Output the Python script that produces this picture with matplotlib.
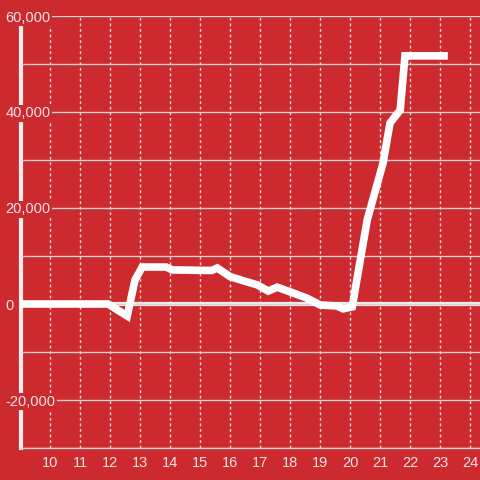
import numpy as np
import matplotlib
matplotlib.use("Agg")
import matplotlib.pyplot as plt
from matplotlib.ticker import MultipleLocator, FuncFormatter

# data (hour of day vs value)
hours = [9.03, 11.93, 12.57, 12.83, 13.07, 13.87, 14.07, 15.17, 15.4, 15.57,
         16.0, 16.57, 16.9, 17.27, 17.57, 18.1, 18.57, 19.0, 19.55, 19.77,
         20.07, 20.57, 21.1, 21.33, 21.67, 21.83, 23.13]
values = [0, 0, -2500, 5000, 7700, 7700, 7100, 7000, 7000, 7500,
          5700, 4600, 4000, 2700, 3500, 2300, 1200, -200, -400, -1000,
          -600, 17500, 29400, 37700, 40400, 51700, 51700]

x_ticks = list(range(10, 25))

red = "#cc2a2f"
plt.rcParams["font.family"] = ["Liberation Sans", "DejaVu Sans"]

fig = plt.figure(figsize=(4.8, 4.8), dpi=100, facecolor=red)
ax = fig.add_axes([21 / 480, 32 / 480, 459 / 480, 432 / 480])
ax.set_facecolor(red)

ax.set_xlim(9.03, 24.33)
ax.set_ylim(-30000, 60000)

ax.set_xticks(x_ticks)
ax.yaxis.set_major_locator(MultipleLocator(20000))
ax.yaxis.set_minor_locator(MultipleLocator(10000))
ax.yaxis.set_major_formatter(FuncFormatter(lambda v, p: "{:,.0f}".format(v)))

ax.grid(axis="x", color="#f2dada", linestyle=(0, (2, 2)), linewidth=1)
ax.grid(axis="y", which="both", color="#d6d0d0", linestyle="-", linewidth=1)

ax.tick_params(axis="both", which="both", length=0, labelcolor="#f6e4e4", labelsize=10.5)
ax.tick_params(axis="x", pad=6)
ax.tick_params(axis="y", pad=11)
for lab in ax.get_yticklabels():
    lab.set_horizontalalignment("left")
    lab.set_bbox(dict(facecolor=red, edgecolor="none", pad=1))
ax.yaxis.set_zorder(3)
ax.xaxis.set_zorder(0.5)

for s in ["top", "right"]:
    ax.spines[s].set_visible(False)
ax.spines["left"].set_color("#f2eeee")
ax.spines["left"].set_linewidth(3)
ax.spines["left"].set_zorder(2)
ax.spines["bottom"].set_color("#d6d0d0")
ax.spines["bottom"].set_linewidth(1)

ax.axhline(0, color="#f4eeee", linewidth=3, zorder=2.5)
ax.plot(hours, values, color="white", linewidth=5.5, solid_joinstyle="miter", zorder=4)

fig.savefig("out.png", dpi=100, facecolor=red)
